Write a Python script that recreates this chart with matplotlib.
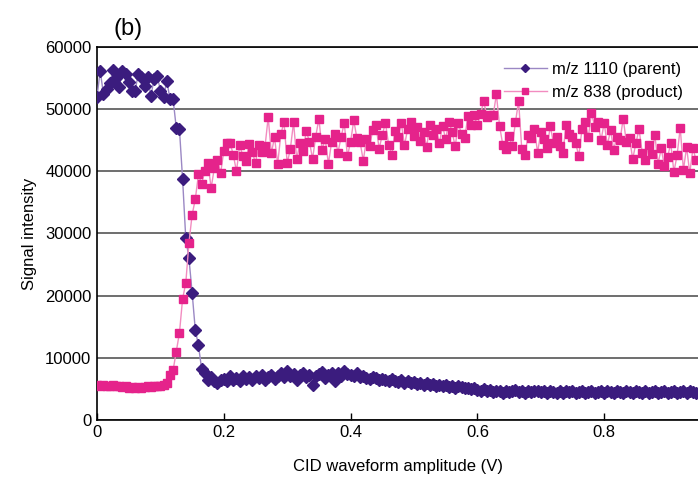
import numpy as np
import matplotlib
matplotlib.use("Agg")
import matplotlib.pyplot as plt

plt.rcParams['font.family'] = ['Liberation Sans', 'DejaVu Sans']

# CID amplitude sweep: 0 V upward in 5 mV steps
AMP_START = 0.0
AMP_STEP = 0.005

parent_1110 = [
    52000, 56200, 52500, 53200, 54200, 56300, 55000, 53600, 56100, 55600,
    54400, 53000, 52900, 55700, 55200, 53700, 55100, 52100, 54900, 55300,
    53000, 51900, 54600, 51700, 51600, 47000, 46800, 38700, 29200, 26000,
    20500, 14500, 12000, 8200, 7600, 6400, 6900, 6200, 6000, 6500,
    6600, 6300, 7000, 6500, 6800, 6200, 7100, 6600, 6900, 6400,
    7000, 6700, 7200, 6500, 6900, 7300, 6600, 7100, 7500, 6900,
    7800, 7000, 7400, 6500, 7200, 7600, 6900, 7300, 5600, 7000,
    7400, 7700, 6800, 7300, 7500, 6200, 7600, 7100, 7800, 7400,
    7200, 7000, 7500, 6900, 7100, 6800, 6600, 6900, 6700, 6400,
    6600, 6500, 6200, 6600, 6300, 6100, 6400, 5900, 6200, 6000,
    6100, 5800, 6000, 5700, 5900, 5600, 5800, 5500, 5700, 5400,
    5600, 5300, 5500, 5200, 5400, 5300, 5100, 5200, 4900, 5100,
    4800, 4600, 4900, 4700, 4800, 4500, 4700, 4600, 4400, 4700,
    4500, 4600, 4800, 4500, 4700, 4400, 4600, 4500, 4700, 4600,
    4500, 4700, 4400, 4600, 4500, 4300, 4600, 4400, 4700, 4500,
    4600, 4400, 4500, 4700, 4300, 4500, 4600, 4400, 4500, 4700,
    4400, 4600, 4500, 4300, 4600, 4500, 4400, 4700, 4500, 4400,
    4600, 4500, 4300, 4600, 4400, 4500, 4700, 4400, 4500, 4600,
    4300, 4500, 4600, 4400, 4500, 4700, 4400, 4600, 4500, 4400,
]

product_838 = [
    5600, 5500, 5600, 5400, 5500, 5600, 5500, 5400, 5300, 5400,
    5200, 5300, 5200, 5300, 5200, 5300, 5400, 5300, 5400, 5500,
    5500, 5600, 6000, 7200, 8000, 11000, 14000, 19500, 22000, 28500,
    33000, 35500, 39500, 38000, 40000, 41300, 37300, 40500, 41800, 39700,
    43300, 44600, 44600, 42600, 40000, 44200, 42500, 41700, 44400, 43100,
    41300, 44200, 43100, 44000, 48700, 42900, 45500, 41200, 46000, 47900,
    41300, 43600, 47900, 42000, 44500, 43200, 46500, 44800, 42000, 45600,
    48500, 43500, 45200, 41200, 44700, 46000, 43000, 45500, 47800, 42400,
    44800, 48200, 45300, 44700, 41700, 45200, 44000, 46700, 47500, 43600,
    45900, 47800, 44300, 42600, 46500, 45500, 47700, 44200, 46800, 48000,
    45700, 47200, 44900, 46300, 43900, 47500, 45800, 46800, 44500, 47300,
    45200, 48000, 46400, 44000, 47700, 46000, 45300, 48900, 47400, 49000,
    47400, 49200, 51300, 48800, 49000, 49100, 52400, 47300, 44300, 43600,
    45700, 44000, 47900, 51300, 43600, 42600, 45800, 45300, 46800, 43000,
    46300, 45200, 43800, 47300, 44500, 45600, 44100, 43000, 47500, 46000,
    45600, 44500, 42500, 46800, 47900, 45500, 49400, 47200, 48000, 45000,
    47800, 44200, 46600, 43500, 45500, 45000, 48500, 44700, 45300, 42000,
    44500, 46800, 43000, 41800, 44200, 42800, 45800, 41200, 43700, 40800,
    42300, 44500, 39900, 42600, 47000, 40200, 43900, 39700, 43700, 41800,
]

amplitude = AMP_START + AMP_STEP * np.arange(len(parent_1110))

yticks = [0, 10000, 20000, 30000, 40000, 50000, 60000]
xticks = [0, 0.2, 0.4, 0.6, 0.8]

fig = plt.figure(figsize=(6.98, 4.90), dpi=100)
ax = fig.add_axes([0.139, 0.143, 0.861, 0.761])

ax.plot(amplitude, parent_1110, color='#9b88c4', lw=1.0, marker='D', ms=6,
        mfc='#3b1c7e', mec='#3b1c7e', label='m/z 1110 (parent)', zorder=3)
ax.plot(amplitude, product_838, color='#f28cc0', lw=1.0, marker='s', ms=5.3,
        mfc='#e5238b', mec='#e5238b', label='m/z 838 (product)', zorder=3)

ax.set_xlim(0, 0.948)
ax.set_ylim(0, 60000)
ax.set_xticks(xticks)
ax.set_xticklabels(['0', '0.2', '0.4', '0.6', '0.8'])
ax.set_yticks(yticks)
ax.yaxis.grid(True, color='#555555', lw=1.2)
ax.set_axisbelow(True)
ax.tick_params(direction='in', labelsize=12, length=5, width=1)
ax.tick_params(axis='y', length=0, pad=4)
ax.spines['right'].set_visible(False)
for s in ('top', 'left', 'bottom'):
    ax.spines[s].set_linewidth(1.2)

ax.set_xlabel('CID waveform amplitude (V)', fontsize=12, labelpad=14)
ax.set_ylabel('Signal intensity', fontsize=12, labelpad=6)
fig.text(0.184, 0.94, '(b)', fontsize=17, ha='center', va='center')

ax.legend(loc='upper right', bbox_to_anchor=(1.0, 1.0), frameon=False,
          fontsize=12, handlelength=2.6, handletextpad=0.3, labelspacing=0.45,
          borderaxespad=0.5, markerscale=0.7)

fig.savefig('out.png', dpi=100)
